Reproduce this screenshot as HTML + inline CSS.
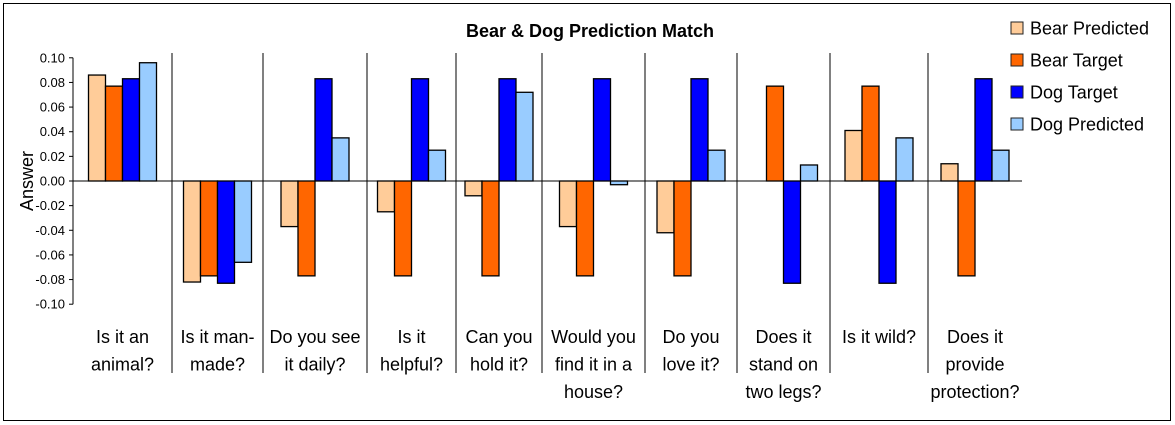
<!DOCTYPE html>
<html><head><meta charset="utf-8"><style>
html,body{margin:0;padding:0;background:#fff;}
svg{display:block;font-family:"Liberation Sans",Arial,sans-serif;}
</style></head><body>
<svg id="chart" width="1175" height="425" viewBox="0 0 1175 425">
<rect x="3.5" y="3.5" width="1167" height="417" fill="#fff" stroke="#000" stroke-width="1"/>
<text x="590" y="37" text-anchor="middle" font-size="18" font-weight="bold">Bear &amp; Dog Prediction Match</text>
<text transform="translate(33,181) rotate(-90)" text-anchor="middle" font-size="18">Answer</text>
<g id="axes"></g>
<g id="bars"></g>
<g id="labels"></g>
<g id="legend"></g>
</svg>
<script>
const categories = [
 ["Is it an","animal?"],["Is it man-","made?"],["Do you see","it daily?"],["Is it","helpful?"],["Can you","hold it?"],
 ["Would you","find it in a","house?"],["Do you","love it?"],["Does it","stand on","two legs?"],["Is it wild?"],["Does it","provide","protection?"]
];
const seriesNames = ["Bear Predicted","Bear Target","Dog Target","Dog Predicted"];
const bearPredicted = [0.086,-0.082,-0.037,-0.025,-0.012,-0.037,-0.042,0.0,0.041,0.014];
const bearTarget = [0.077,-0.077,-0.077,-0.077,-0.077,-0.077,-0.077,0.077,0.077,-0.077];
const dogTarget = [0.083,-0.083,0.083,0.083,0.083,0.083,0.083,-0.083,-0.083,0.083];
const dogPredicted = [0.096,-0.066,0.035,0.025,0.072,-0.003,0.025,0.013,0.035,0.025];
const yTicks = [0.10,0.08,0.06,0.04,0.02,0.00,-0.02,-0.04,-0.06,-0.08,-0.10];

const NS="http://www.w3.org/2000/svg";
const colors=["#ffcc99","#ff6600","#0000ff","#99ccff"];
const series=[bearPredicted,bearTarget,dogTarget,dogPredicted];
const plotL=73, plotR=1022, y0=181, yScale=1232;
const bounds=[73,172,263,367,456,542,645,737,830,928,1022];
function y(v){return y0 - v*yScale;}
function mk(tag,attrs,parent){const e=document.createElementNS(NS,tag);for(const k in attrs)e.setAttribute(k,attrs[k]);parent.appendChild(e);return e;}
const axes=document.getElementById('axes'),bars=document.getElementById('bars'),labels=document.getElementById('labels'),legend=document.getElementById('legend');

let ax=mk('line',{x1:plotL,x2:plotL,y1:y(0.10),y2:y(-0.10),stroke:'#000'},axes);


yTicks.forEach(t=>{
 const tk=mk('line',{x1:plotL-4,x2:plotL,y1:y(t),y2:y(t),stroke:'#000'},axes);
 
 
 const tl=mk('text',{x:plotL-8,y:y(t)+4.5,'text-anchor':'end','font-size':13},axes);
 tl.textContent=t.toFixed(2);
 
 
});
for(let i=1;i<bounds.length-1;i++){
 const d=mk('line',{x1:bounds[i],x2:bounds[i],y1:53,y2:373,stroke:'#000'},axes);
 
 
}
const bw=17;
categories.forEach((c,i)=>{
 const cx=(bounds[i]+bounds[i+1])/2;
 const start=cx-2*bw;
 series.forEach((s,j)=>{
  const v=s[i];
  if(v===0)return;
  const top=Math.min(y(v),y0),h=Math.abs(y(v)-y0);
  const r=mk('rect',{x:start+j*bw,y:top,width:bw,height:h,fill:colors[j],stroke:'#000','stroke-width':1.3},bars);
  
  
 });
 const t=mk('text',{x:cx,'text-anchor':'middle','font-size':18},labels);
 
 
 c.forEach((ln,k)=>{const ts=mk('tspan',{x:cx,y:343+k*27.5},t);ts.textContent=ln;});
});
let zl=mk('line',{x1:plotL,x2:plotR,y1:y0,y2:y0,stroke:'#000'},axes);


seriesNames.forEach((n,j)=>{
 const ly=28+j*32;
 const g=mk('g',{},legend);
 
 
 mk('rect',{x:1011,y:ly-6,width:12,height:12,fill:colors[j],stroke:'#222'},g);
 const t=mk('text',{x:1030,y:ly+6.5,'font-size':18},g);
 t.textContent=n;
});
</script>
</body></html>
